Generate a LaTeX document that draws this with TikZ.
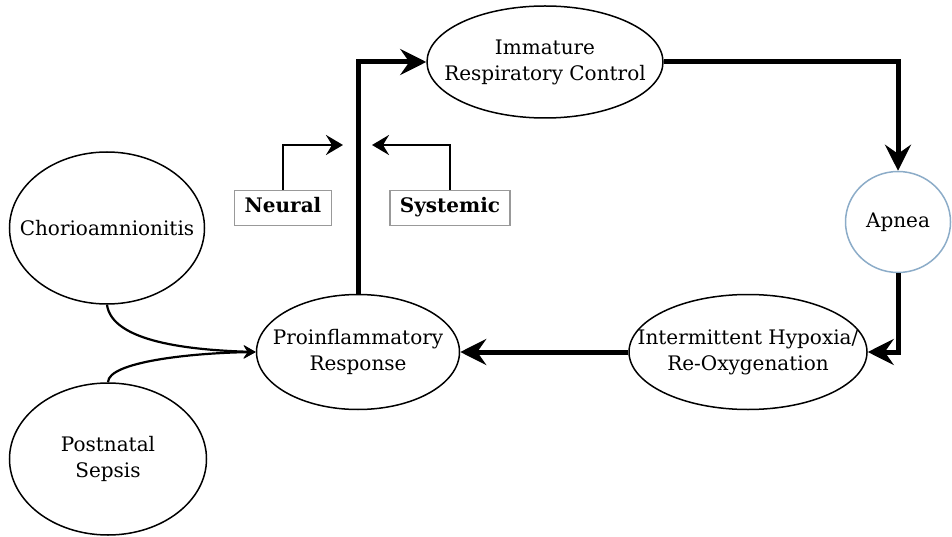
\documentclass[tikz,border=0pt]{standalone}
\usepackage{fontspec}
\setmainfont{DejaVu Serif}
\usetikzlibrary{arrows.meta,shapes.geometric}
\definecolor{apneablue}{RGB}{140,172,200}
\begin{document}
\begin{tikzpicture}[
    x=1pt,y=-1pt,
    every node/.style={font=\fontsize{20}{26}\selectfont, align=center},
    oval/.style={ellipse, draw, line width=1.5pt, inner sep=0pt},
    tagbox/.style={rectangle, draw=gray!80, line width=1.2pt, minimum width=97pt, minimum height=35pt, inner sep=0pt, text height=14pt, text depth=4pt, font=\fontsize{20}{26}\selectfont\bfseries},
    mainarrow/.style={line width=5pt, -{Stealth[length=26pt,width=26pt,inset=9pt]}},
    sidearrow/.style={line width=2.5pt, -{Stealth[length=17pt,width=20pt,inset=6pt]}},
    feedarrow/.style={line width=2.2pt, -{Stealth[length=12pt,width=13pt,inset=4pt]}}
    ]
	\useasboundingbox (0,0) rectangle (952,537);
	\node [oval, minimum width=236pt, minimum height=112pt] (immature) at (545,62) {};
	\node (immature text) at (immature) {Immature\\Respiratory Control};
	\node [oval, draw=apneablue, minimum width=105pt, minimum height=101pt] (apnea) at (898,222) {};
	\node (apnea text) at (apnea) {Apnea};
	\node [oval, minimum width=238pt, minimum height=115pt] (hypoxia) at (748,352) {};
	\node (hypoxia text) at (hypoxia) {Intermittent Hypoxia/\\Re-Oxygenation};
	\node [oval, minimum width=203pt, minimum height=115pt] (proinfl) at (358,352) {};
	\node (proinfl text) at (proinfl) {Proinflammatory\\Response};
	\node [oval, minimum width=195pt, minimum height=152pt] (chorio) at (107,228) {};
	\node (chorio text) at (chorio) {Chorioamnionitis};
	\node [oval, minimum width=197pt, minimum height=152pt] (sepsis) at (108,459) {};
	\node (sepsis text) at (sepsis) {Postnatal\\Sepsis};
	\node [tagbox] (neural) at (283,208) {Neural};
	\node [tagbox, minimum width=120pt] (systemic) at (450,208) {Systemic};
	\coordinate (neuralend) at (343,145);
	\coordinate (systemicend) at (372,145);

	\draw [mainarrow] (proinfl.north) |- (immature.west);
	\draw [mainarrow] (immature.east) -| (apnea.north);
	\draw [mainarrow] (apnea.south) |- (hypoxia.east);
	\draw [mainarrow] (hypoxia.west) -- (proinfl.east);
	\draw [sidearrow] (neural.north) |- (neuralend);
	\draw [sidearrow] (systemic.north) |- (systemicend);
	\draw [feedarrow] (chorio.south) .. controls (112,342) and (190,350) .. (proinfl.west);
	\draw [feedarrow] (sepsis.north) .. controls (108,362) and (190,353) .. (proinfl.west);
\end{tikzpicture}
\end{document}
